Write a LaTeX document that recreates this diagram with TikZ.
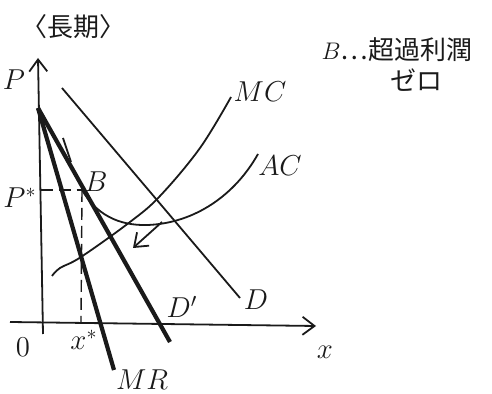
\documentclass[tikz,border=0pt]{standalone}
\usepackage{fontspec}
\newfontfamily\jpfont{Noto Sans CJK JP}
\usetikzlibrary{arrows.meta,calc}
\definecolor{ink}{HTML}{1A1A1A}
\tikzset{
  >={Straight Barb[length=6pt,width=9pt]},
  every node/.style={font=\fontsize{14}{16}\selectfont, text=ink},
  % --- lines
  curve/.style = {draw=ink, line width=0.9pt},
  bold/.style  = {draw=ink, line width=2.1pt},
  axis/.style  = {draw=ink, line width=0.9pt, ->},
  guide/.style = {draw=ink, line width=0.7pt, dash pattern=on 6pt off 3pt},
  % --- labels
  lbl/.style   = {inner sep=1pt},
  jp/.style    = {font=\jpfont\fontsize{13}{15}\selectfont, inner sep=1pt},
}
\begin{document}
\begin{tikzpicture}[x=0.5pt,y=-0.5pt]
  \useasboundingbox (0,0) rectangle (492,394);
  % --- points
  \coordinate (ybot) at (43,334);  \coordinate (ytop) at (38,58);
  \coordinate (xl) at (10,322);    \coordinate (xr) at (316,326);
  \coordinate (top) at (38,108);
  \coordinate (B) at (82,190);
  \coordinate (Pstar) at (40.5,190);
  \coordinate (xstar) at (81,322);
  \coordinate (dpend) at (170,342);
  \coordinate (mrend) at (114,370);
  \coordinate (dtop) at (62,88);   \coordinate (dend) at (240,298);
  \coordinate (acmin) at (148,225); \coordinate (acend) at (258,154);
  \coordinate (shA) at (162,222);  \coordinate (shB) at (133,248);
  % --- axes
  \draw[axis] (ybot) -- (ytop);
  \draw[axis] (xl) -- (xr);
  % --- curves
  \draw[curve] (dtop) -- (dend);
  \draw[bold] (top) -- (dpend);
  \draw[bold] (top) -- (mrend);
  \draw[curve] (63,138) -- (71,162);
  \draw[curve] (B) .. controls (96,214) and (118,226) .. (acmin)
               .. controls (195,223) and (235,195) .. (acend);
  \draw[curve] plot[smooth, tension=0.6] coordinates
    {(52,276) (60,268) (81,257) (130,222) (160,196) (200,148) (231,97)};
  \draw[guide] (Pstar) -- (B);
  \draw[guide] (B) -- (xstar);
  \draw[curve, ->] (shA) -- (shB);
  % --- labels
  \node[jp, font=\jpfont\fontsize{13}{15}\selectfont] (title) at (73,27) {〈長期〉};
  \node[jp] (note) at (397,50) {$B$…超過利潤};
  \node[jp] (zero) at (416,80) {ゼロ};
  \node[lbl] (lP) at (14,80) {$P$};
  \node[lbl] (lPs) at (20,198) {$P^{*}$};
  \node[lbl] (lB) at (96,182) {$B$};
  \node[lbl] (lO) at (23,347) {$0$};
  \node[lbl] (lxs) at (84,340) {$x^{*}$};
  \node[lbl] (lx) at (325,352) {$x$};
  \node[lbl] (lMR) at (142,380) {$MR$};
  \node[lbl] (lDp) at (182,307) {$D'$};
  \node[lbl] (lD) at (256,300) {$D$};
  \node[lbl] (lAC) at (280,166) {$AC$};
  \node[lbl] (lMC) at (260,92) {$MC$};
\end{tikzpicture}
\end{document}
